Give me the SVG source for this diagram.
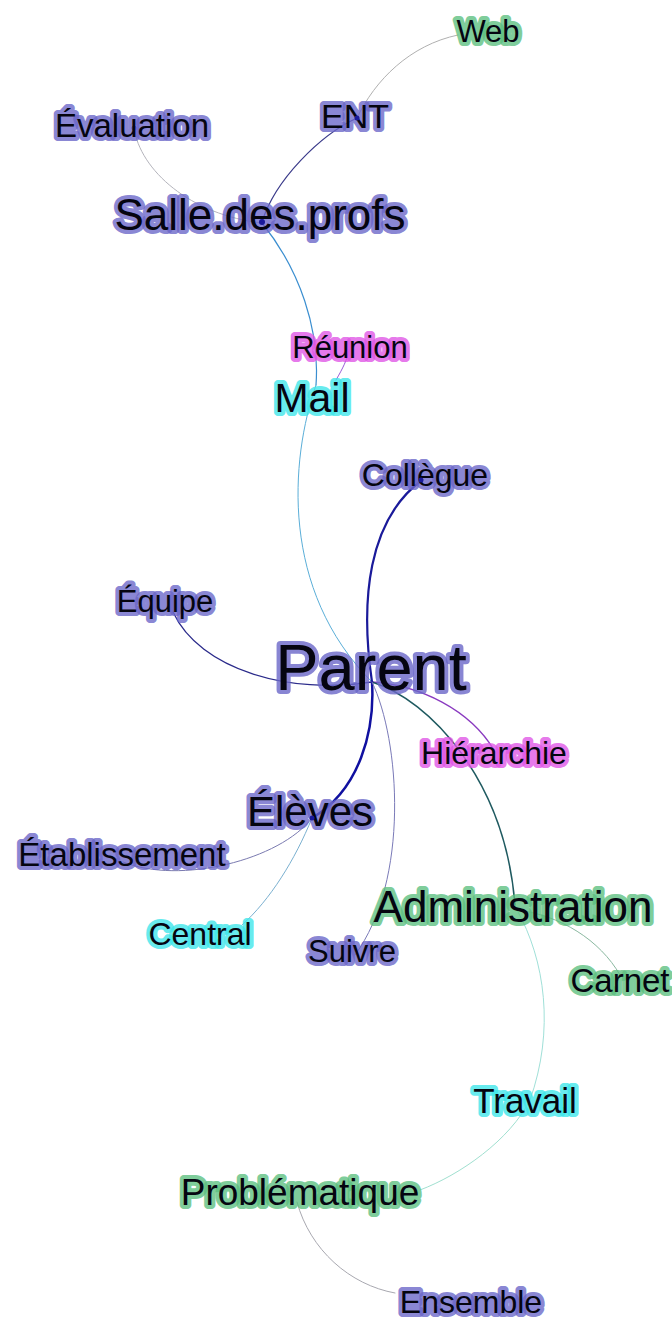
<svg xmlns="http://www.w3.org/2000/svg" width="672" height="1322" viewBox="0 0 672 1322">
<style>
.e{fill:none;stroke-linecap:round}
.t{font-family:"Liberation Sans",Arial,sans-serif;text-anchor:middle;fill:#050510;paint-order:stroke;stroke-linejoin:round;stroke-width:8;stroke-opacity:0.8}
.b{stroke:#6a66c8}
.g{stroke:#5cbf80}
.c{stroke:#3ee6ea}
.m{stroke:#e055e6}
.db{fill:#1a1a9a}
.dg{fill:#2a8a50}
</style>
<rect width="672" height="1322" fill="#ffffff"/>
<g id="edges">
<path class="e" d="M357,118 C375,80 410,45 458,35" stroke="#b0b0b0" stroke-width="1"/>
<path class="e" d="M357,118 C320,135 275,180 262,222" stroke="#3a3a8a" stroke-width="1.2"/>
<path class="e" d="M134,128 C140,170 190,215 262,223" stroke="#b4b4bc" stroke-width="1"/>
<path class="e" d="M262,223 C300,270 320,330 316,385" stroke="#3a8ed0" stroke-width="1.2"/>
<path class="e" d="M316,385 C290,460 280,590 372,682" stroke="#5aaed8" stroke-width="1"/>
<path class="e" d="M349,350 C347,360 343,368 336,380" stroke="#9a5ad8" stroke-width="1"/>
<path class="e" d="M372,682 C360,600 368,520 422,480" stroke="#1a1a9a" stroke-width="2.2"/>
<path class="e" d="M173,612 C200,670 290,695 372,682" stroke="#2a2a8a" stroke-width="1.3"/>
<path class="e" d="M372,682 C420,685 470,710 494,750" stroke="#8a3ac0" stroke-width="1.3"/>
<path class="e" d="M372,682 C430,700 505,780 515,905" stroke="#1f5a60" stroke-width="1.5"/>
<path class="e" d="M372,682 C375,730 360,790 312,818" stroke="#1010a0" stroke-width="2.5"/>
<path class="e" d="M372,682 C400,740 410,880 355,955" stroke="#7a7ab8" stroke-width="1"/>
<path class="e" d="M312,818 C280,860 180,885 123,862" stroke="#7a7ab0" stroke-width="1"/>
<path class="e" d="M312,818 C295,860 270,900 242,925" stroke="#7ab0d0" stroke-width="1"/>
<path class="e" d="M517,910 C560,915 600,940 620,975" stroke="#8ab8a0" stroke-width="1"/>
<path class="e" d="M517,910 C545,960 555,1030 530,1100" stroke="#a0e0d8" stroke-width="1"/>
<path class="e" d="M530,1100 C510,1140 460,1175 420,1190" stroke="#a0e0d0" stroke-width="1"/>
<path class="e" d="M297,1202 C310,1250 350,1285 395,1293" stroke="#a8a8b0" stroke-width="1"/>
</g>
<g id="n-web"><text class="t g" x="488" y="42" font-size="31">Web</text></g>
<g id="n-evaluation"><circle class="db" cx="134" cy="128" r="2.5"/><text class="t b" x="132" y="137" font-size="33">Évaluation</text></g>
<g id="n-ent"><text class="t b" x="355" y="128" font-size="34">ENT</text><circle class="db" cx="357" cy="118" r="2.5"/></g>
<g id="n-salle"><text class="t b" x="260" y="230" font-size="44">Salle.des.profs</text><circle class="db" cx="262" cy="222" r="3"/></g>
<g id="n-reunion"><text class="t m" x="350" y="358" font-size="31">Réunion</text></g>
<g id="n-mail"><text class="t c" x="312" y="412" font-size="41">Mail</text></g>
<g id="n-collegue"><text class="t b" x="425" y="486" font-size="32">Collègue</text><circle class="db" cx="421" cy="480" r="2.5"/></g>
<g id="n-equipe"><text class="t b" x="165" y="612" font-size="31">Équipe</text></g>
<g id="n-parent"><text class="t b" x="371" y="690" font-size="65">Parent</text></g>
<g id="n-hierarchie"><text class="t m" x="494" y="764" font-size="32">Hiérarchie</text></g>
<g id="n-eleves"><text class="t b" x="310" y="826" font-size="42">Élèves</text><circle class="db" cx="312" cy="818" r="2.5"/></g>
<g id="n-etablissement"><text class="t b" x="122" y="866" font-size="33">Établissement</text></g>
<g id="n-administration"><text class="t g" x="513" y="922" font-size="44">Administration</text></g>
<g id="n-central"><text class="t c" x="200" y="945" font-size="32">Central</text></g>
<g id="n-suivre"><text class="t b" x="352" y="962" font-size="31">Suivre</text></g>
<g id="n-carnet"><text class="t g" x="620" y="992" font-size="33">Carnet</text></g>
<g id="n-travail"><text class="t c" x="525" y="1113" font-size="35">Travail</text></g>
<g id="n-problematique"><text class="t g" x="300" y="1205" font-size="37">Problématique</text></g>
<g id="n-ensemble"><text class="t b" x="471" y="1313" font-size="32">Ensemble</text></g>
</svg>
